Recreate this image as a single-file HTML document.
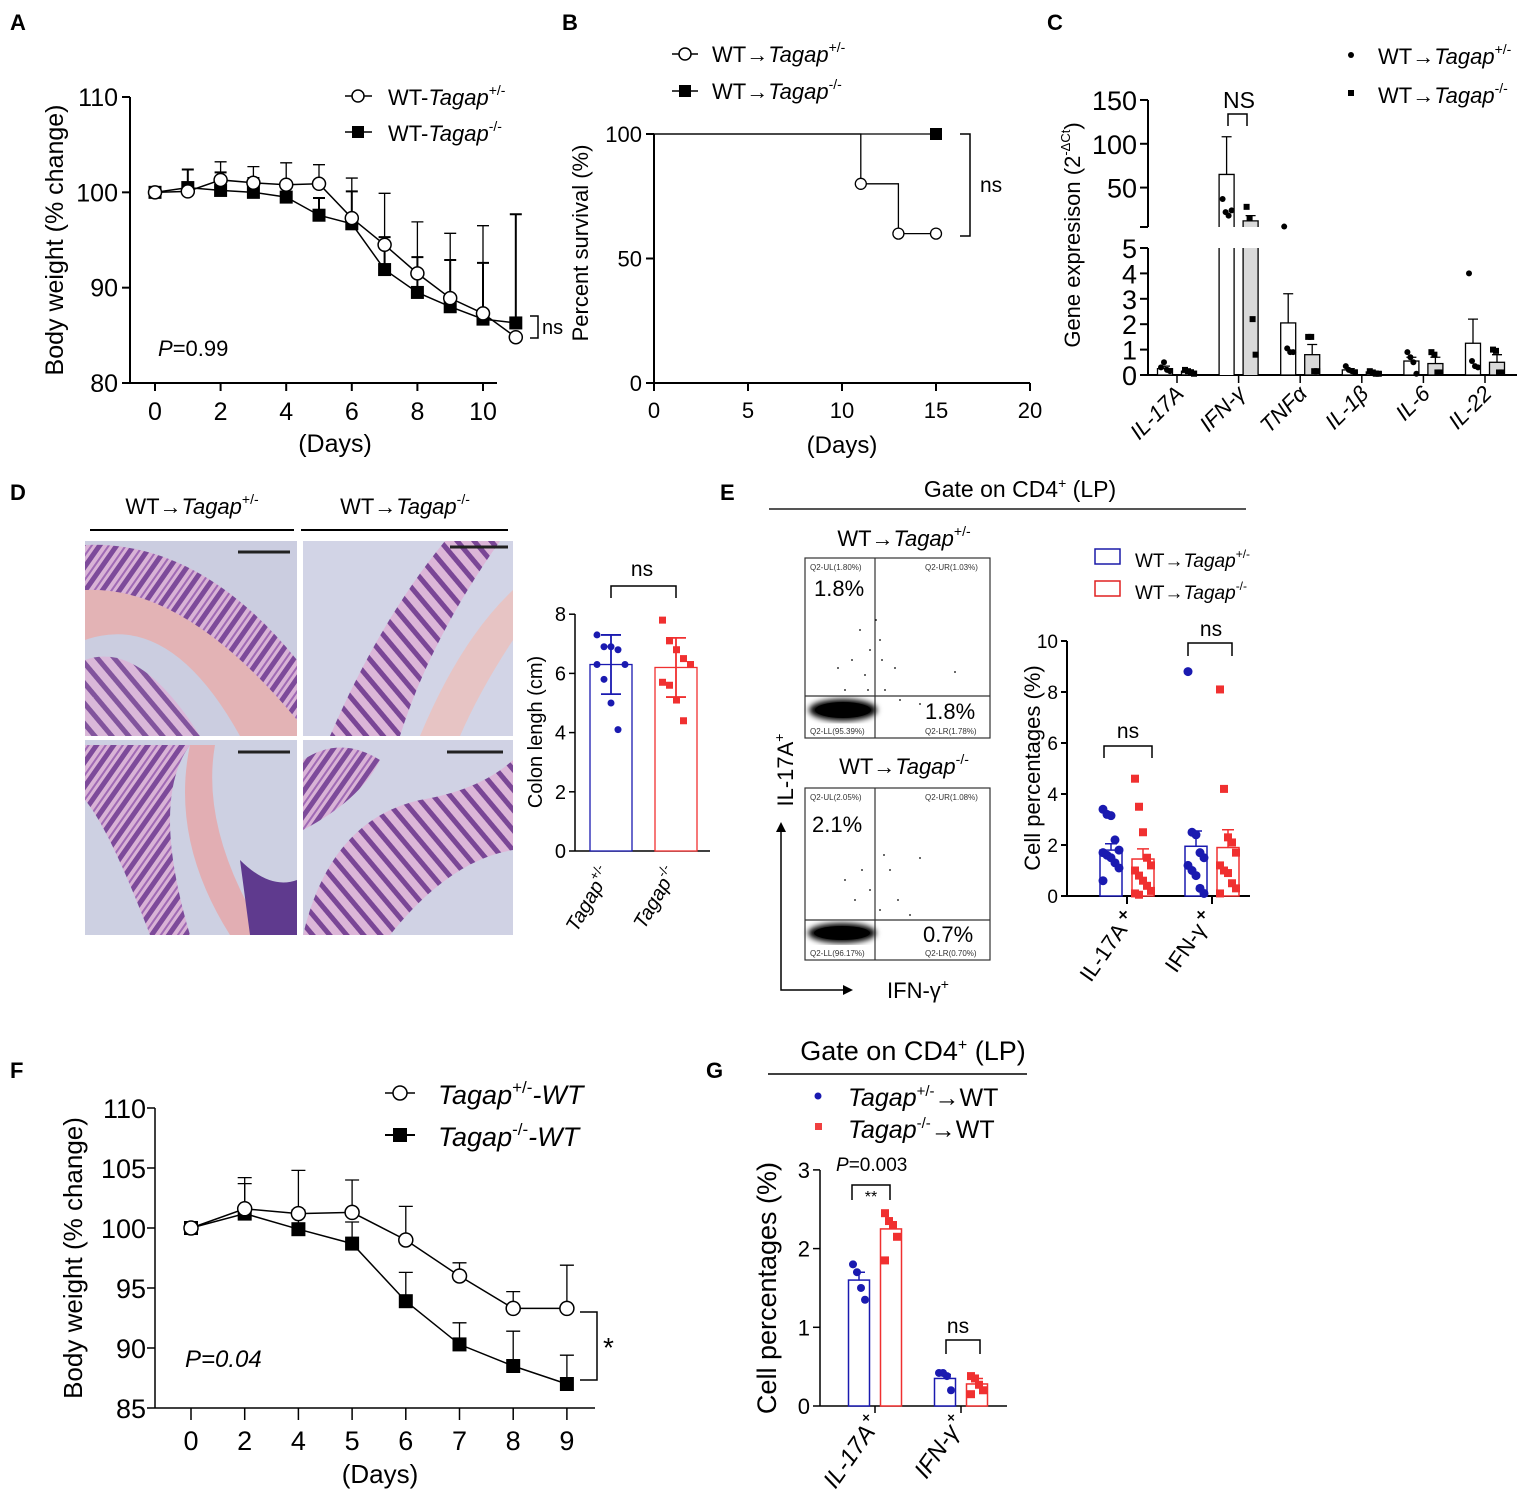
<!DOCTYPE html>
<html><head><meta charset="utf-8"><style>
html,body{margin:0;padding:0;background:#fff}
svg{display:block;font-family:"Liberation Sans",Arial,sans-serif}
</style></head><body>
<svg id="fig" width="1535" height="1495" viewBox="0 0 1535 1495" xmlns="http://www.w3.org/2000/svg">
<defs>
<pattern id="crypt" width="14" height="14" patternUnits="userSpaceOnUse" patternTransform="rotate(35)">
<rect width="14" height="14" fill="#d9b3d6"/><rect x="0" y="0" width="5" height="14" fill="#7d4a9a"/><rect x="9" y="0" width="2" height="14" fill="#a06ab5"/></pattern>
<pattern id="crypt2" width="13" height="13" patternUnits="userSpaceOnUse" patternTransform="rotate(-40)">
<rect width="13" height="13" fill="#dcb6d8"/><rect x="0" y="0" width="5" height="13" fill="#7a4696"/></pattern>
<filter id="blur"><feGaussianBlur stdDeviation="3"/></filter>
</defs>
<g font-size="24">
<text x="10" y="30" font-weight="bold" font-size="22">A</text>
<text x="562" y="30" font-weight="bold" font-size="22">B</text>
<text x="1047" y="30" font-weight="bold" font-size="22">C</text>
<text x="10" y="500" font-weight="bold" font-size="22">D</text>
<text x="720" y="500" font-weight="bold" font-size="22">E</text>
<text x="10" y="1078" font-weight="bold" font-size="22">F</text>
<text x="706" y="1078" font-weight="bold" font-size="22">G</text>

<g>
<line x1="130" y1="97" x2="130" y2="383" stroke="#000" stroke-width="2"/>
<line x1="130" y1="383" x2="497" y2="383" stroke="#000" stroke-width="2"/>
<text transform="translate(63,240) rotate(-90)" text-anchor="middle" font-size="25">Body weight (% change)</text>
<text x="335" y="452" text-anchor="middle" font-size="25">(Days)</text>
<text x="158" y="356" font-size="22"><tspan font-style="italic">P</tspan>=0.99</text>
<path d="M530,316 H538 V338 H530" fill="none" stroke="#000" stroke-width="1.5"/>
<text x="542" y="334" font-size="20">ns</text>
<g>
<line x1="345" y1="96" x2="372" y2="96" stroke="#000" stroke-width="1.5"/><circle cx="358" cy="96" r="6" fill="#fff" stroke="#000" stroke-width="1.5"/>
<text x="388" y="105" font-size="22">WT-<tspan font-style="italic">Tagap</tspan><tspan font-size="14" dy="-10">+/-</tspan></text>
<line x1="345" y1="132" x2="372" y2="132" stroke="#000" stroke-width="1.5"/><rect x="352" y="126" width="12" height="12" fill="#000"/>
<text x="388" y="141" font-size="22">WT-<tspan font-style="italic">Tagap</tspan><tspan font-size="14" dy="-10">-/-</tspan></text>
</g>
</g>

<g>
<line x1="654" y1="134" x2="654" y2="383" stroke="#000" stroke-width="2"/>
<line x1="654" y1="383" x2="1030" y2="383" stroke="#000" stroke-width="2"/>
<text transform="translate(588,243) rotate(-90)" text-anchor="middle" font-size="22">Percent survival (%)</text>
<text x="842" y="453" text-anchor="middle" font-size="24">(Days)</text>
<path d="M960,134 H970 V236 H960" fill="none" stroke="#000" stroke-width="1.5"/>
<text x="980" y="192" font-size="21">ns</text>
<g>
<line x1="672" y1="54" x2="698" y2="54" stroke="#000" stroke-width="1.5"/><circle cx="685" cy="54" r="6" fill="#fff" stroke="#000" stroke-width="1.5"/>
<text x="712" y="62" font-size="22">WT→<tspan font-style="italic">Tagap</tspan><tspan font-size="14" dy="-10">+/-</tspan></text>
<line x1="672" y1="91" x2="698" y2="91" stroke="#000" stroke-width="1.5"/><rect x="679" y="85" width="12" height="12" fill="#000"/>
<text x="712" y="99" font-size="22">WT→<tspan font-style="italic">Tagap</tspan><tspan font-size="14" dy="-10">-/-</tspan></text>
</g>
</g>

<g>
<line x1="1148" y1="100" x2="1148" y2="227" stroke="#000" stroke-width="2"/>
<line x1="1148" y1="248" x2="1148" y2="375" stroke="#000" stroke-width="2"/>
<line x1="1140" y1="227" x2="1148" y2="227" stroke="#000" stroke-width="2"/>
<line x1="1140" y1="248" x2="1148" y2="248" stroke="#000" stroke-width="2"/>
<line x1="1148" y1="375" x2="1517" y2="375" stroke="#000" stroke-width="2"/>
<text transform="translate(1080,235) rotate(-90)" text-anchor="middle" font-size="22">Gene expresison (2<tspan font-size="13" dy="-10">-ΔCt</tspan><tspan dy="10">)</tspan></text>
<path d="M1228,126 V114 H1247 V126" fill="none" stroke="#000" stroke-width="1.5"/>
<text x="1239" y="108" text-anchor="middle" font-size="23">NS</text>
<g>
<circle cx="1351" cy="55" r="3" fill="#000"/>
<text x="1378" y="64" font-size="22">WT→<tspan font-style="italic">Tagap</tspan><tspan font-size="14" dy="-10">+/-</tspan></text>
<rect x="1348" y="90" width="6" height="6" fill="#000"/>
<text x="1378" y="103" font-size="22">WT→<tspan font-style="italic">Tagap</tspan><tspan font-size="14" dy="-10">-/-</tspan></text>
</g>
</g>

<g>
<text x="192" y="514" text-anchor="middle" font-size="22">WT→<tspan font-style="italic">Tagap</tspan><tspan font-size="14" dy="-10">+/-</tspan></text>
<line x1="90" y1="530" x2="294" y2="530" stroke="#000" stroke-width="2"/>
<text x="405" y="514" text-anchor="middle" font-size="22">WT→<tspan font-style="italic">Tagap</tspan><tspan font-size="14" dy="-10">-/-</tspan></text>
<line x1="301" y1="530" x2="508" y2="530" stroke="#000" stroke-width="2"/>
<g>
<rect x="85" y="541" width="212" height="195" fill="#cbcde0"/>
<path d="M85,580 Q180,560 297,720 L297,736 L240,736 Q170,610 85,640 Z" fill="#e3b3b5"/>
<path d="M85,545 Q200,540 297,660 L297,720 Q185,585 85,590 Z" fill="url(#crypt)"/>
<path d="M85,660 Q140,640 200,736 L85,736 Z" fill="url(#crypt2)" opacity="0.9"/>
<line x1="238" y1="552" x2="290" y2="552" stroke="#222" stroke-width="3"/>
</g>
<g>
<rect x="303" y="541" width="210" height="195" fill="#d2d4e6"/>
<path d="M330,736 Q380,620 445,541 L500,541 Q430,640 400,736 Z" fill="url(#crypt2)"/>
<path d="M420,736 Q460,640 513,590 L513,640 Q480,690 460,736 Z" fill="#e7c4c4"/>
<line x1="450" y1="547" x2="508" y2="547" stroke="#222" stroke-width="3"/>
</g>
<g>
<rect x="85" y="740" width="212" height="195" fill="#cdd0e2"/>
<path d="M85,745 L190,745 Q150,800 190,935 L150,935 Q110,830 85,800 Z" fill="url(#crypt)"/>
<path d="M190,745 Q170,840 230,935 L265,935 Q200,830 215,745 Z" fill="#e2aeb3"/>
<path d="M240,860 Q270,890 297,880 L297,935 L250,935 Z" fill="#5f3a8e"/>
<line x1="238" y1="752" x2="290" y2="752" stroke="#222" stroke-width="3"/>
</g>
<g>
<rect x="303" y="740" width="210" height="195" fill="#d0d2e4"/>
<path d="M303,760 Q340,735 380,760 Q360,800 303,830 Z" fill="url(#crypt)"/>
<path d="M303,935 Q330,820 420,800 Q480,790 513,760 L513,850 Q450,860 390,935 Z" fill="url(#crypt2)"/>
<line x1="447" y1="752" x2="503" y2="752" stroke="#222" stroke-width="3"/>
</g>
<line x1="575" y1="614" x2="575" y2="851" stroke="#000" stroke-width="1.5"/>
<line x1="575" y1="851" x2="710" y2="851" stroke="#000" stroke-width="1.5"/>
<text transform="translate(542,732) rotate(-90)" text-anchor="middle" font-size="20">Colon lengh (cm)</text>
<path d="M611,598 V586 H676 V598" fill="none" stroke="#000" stroke-width="1.5"/>
<text x="642" y="576" text-anchor="middle" font-size="21">ns</text>
<text transform="translate(612,872) rotate(-60)" text-anchor="end" font-size="20" font-style="italic">Tagap<tspan font-size="13" dy="-9" font-style="normal">+/-</tspan></text>
<text transform="translate(678,872) rotate(-60)" text-anchor="end" font-size="20" font-style="italic">Tagap<tspan font-size="13" dy="-9" font-style="normal">-/-</tspan></text>
</g>

<g>
<text x="1020" y="497" text-anchor="middle" font-size="23">Gate on CD4<tspan font-size="14" dy="-9">+</tspan><tspan dy="9"> (LP)</tspan></text>
<line x1="769" y1="509" x2="1246" y2="509" stroke="#555" stroke-width="2"/>
<text x="904" y="546" text-anchor="middle" font-size="22">WT→<tspan font-style="italic">Tagap</tspan><tspan font-size="14" dy="-10">+/-</tspan></text>
<text x="904" y="774" text-anchor="middle" font-size="22">WT→<tspan font-style="italic">Tagap</tspan><tspan font-size="14" dy="-10">-/-</tspan></text>
<g>
<rect x="805" y="558" width="185" height="180" fill="#fff" stroke="#333" stroke-width="1.2"/>
<line x1="875" y1="558" x2="875" y2="738" stroke="#333" stroke-width="1.2"/>
<line x1="805" y1="696" x2="990" y2="696" stroke="#333" stroke-width="1.2"/>
<ellipse cx="843" cy="710" rx="34" ry="11" fill="#000" filter="url(#blur)"/>
<ellipse cx="843" cy="710" rx="28" ry="8" fill="#000"/>
<g fill="#000"><circle cx="860" cy="630" r="0.9"/><circle cx="870" cy="650" r="0.9"/><circle cx="880" cy="640" r="0.9"/><circle cx="852" cy="660" r="0.9"/><circle cx="865" cy="675" r="0.9"/><circle cx="885" cy="690" r="0.9"/><circle cx="900" cy="700" r="0.9"/><circle cx="895" cy="668" r="0.9"/><circle cx="838" cy="668" r="0.9"/><circle cx="955" cy="672" r="0.9"/><circle cx="876" cy="620" r="0.9"/><circle cx="882" cy="660" r="0.9"/><circle cx="868" cy="690" r="0.9"/><circle cx="920" cy="704" r="0.9"/><circle cx="845" cy="690" r="0.9"/></g>
<text x="810" y="570" font-size="8" fill="#333">Q2-UL(1.80%)</text><text x="925" y="570" font-size="8" fill="#333">Q2-UR(1.03%)</text>
<text x="810" y="734" font-size="8" fill="#333">Q2-LL(95.39%)</text><text x="925" y="734" font-size="8" fill="#333">Q2-LR(1.78%)</text>
<text x="814" y="596" font-size="22">1.8%</text><text x="925" y="719" font-size="22">1.8%</text>
</g>
<g>
<rect x="805" y="788" width="185" height="172" fill="#fff" stroke="#333" stroke-width="1.2"/>
<line x1="875" y1="788" x2="875" y2="960" stroke="#333" stroke-width="1.2"/>
<line x1="805" y1="920" x2="990" y2="920" stroke="#333" stroke-width="1.2"/>
<ellipse cx="842" cy="933" rx="34" ry="10" fill="#000" filter="url(#blur)"/>
<ellipse cx="842" cy="933" rx="28" ry="7" fill="#000"/>
<g fill="#000"><circle cx="862" cy="870" r="0.9"/><circle cx="870" cy="890" r="0.9"/><circle cx="884" cy="855" r="0.9"/><circle cx="890" cy="870" r="0.9"/><circle cx="855" cy="900" r="0.9"/><circle cx="898" cy="900" r="0.9"/><circle cx="910" cy="915" r="0.9"/><circle cx="920" cy="858" r="0.9"/><circle cx="845" cy="880" r="0.9"/><circle cx="880" cy="910" r="0.9"/></g>
<text x="810" y="800" font-size="8" fill="#333">Q2-UL(2.05%)</text><text x="925" y="800" font-size="8" fill="#333">Q2-UR(1.08%)</text>
<text x="810" y="956" font-size="8" fill="#333">Q2-LL(96.17%)</text><text x="925" y="956" font-size="8" fill="#333">Q2-LR(0.70%)</text>
<text x="812" y="832" font-size="22">2.1%</text><text x="923" y="942" font-size="22">0.7%</text>
</g>
<path d="M781,830 V990 H845" fill="none" stroke="#000" stroke-width="1.5"/>
<path d="M776,832 L781,822 L786,832 Z M843,985 L853,990 L843,995 Z" fill="#000"/>
<text transform="translate(793,770) rotate(-90)" text-anchor="middle" font-size="22">IL-17A<tspan font-size="14" dy="-9">+</tspan></text>
<text x="918" y="998" text-anchor="middle" font-size="22">IFN-γ<tspan font-size="14" dy="-9">+</tspan></text>
<g>
<rect x="1095" y="549" width="25" height="15" fill="#fff" stroke="#1a1aa8" stroke-width="1.5"/>
<text x="1135" y="567" font-size="19">WT→<tspan font-style="italic">Tagap</tspan><tspan font-size="12" dy="-9">+/-</tspan></text>
<rect x="1095" y="581" width="25" height="15" fill="#fff" stroke="#e02020" stroke-width="1.5"/>
<text x="1135" y="599" font-size="19">WT→<tspan font-style="italic">Tagap</tspan><tspan font-size="12" dy="-9">-/-</tspan></text>
</g>
<line x1="1067" y1="641" x2="1067" y2="896" stroke="#000" stroke-width="2"/>
<line x1="1067" y1="896" x2="1250" y2="896" stroke="#000" stroke-width="2"/>
<text transform="translate(1040,768) rotate(-90)" text-anchor="middle" font-size="22">Cell percentages (%)</text>
<path d="M1104,758 V746 H1152 V758" fill="none" stroke="#000" stroke-width="1.5"/>
<text x="1128" y="738" text-anchor="middle" font-size="21">ns</text>
<path d="M1188,656 V643 H1232 V656" fill="none" stroke="#000" stroke-width="1.5"/>
<text x="1211" y="636" text-anchor="middle" font-size="21">ns</text>
<text transform="translate(1128,930) rotate(-55)" text-anchor="end" font-size="22">IL-17A</text>
<text transform="translate(1207,930) rotate(-55)" text-anchor="end" font-size="22">IFN-γ</text>
<text x="1123" y="920" text-anchor="middle" font-size="16" font-weight="bold">×</text>
<text x="1201" y="920" text-anchor="middle" font-size="16" font-weight="bold">×</text>
</g>

<g>
<line x1="155" y1="1108" x2="155" y2="1408" stroke="#000" stroke-width="1.5"/>
<line x1="155" y1="1408" x2="595" y2="1408" stroke="#000" stroke-width="1.5"/>
<text transform="translate(82,1258) rotate(-90)" text-anchor="middle" font-size="26">Body weight (% change)</text>
<text x="380" y="1483" text-anchor="middle" font-size="26">(Days)</text>
<text x="185" y="1367" font-size="24" font-style="italic">P=0.04</text>
<path d="M580,1312 H597 V1380 H580" fill="none" stroke="#000" stroke-width="1.5"/>
<text x="603" y="1357" font-size="28">*</text>
<g>
<line x1="385" y1="1093" x2="415" y2="1093" stroke="#000" stroke-width="1.5"/><circle cx="400" cy="1093" r="7" fill="#fff" stroke="#000" stroke-width="1.5"/>
<text x="438" y="1104" font-size="27" font-style="italic">Tagap<tspan font-size="17" dy="-11" font-style="normal">+/-</tspan><tspan dy="11">-WT</tspan></text>
<line x1="385" y1="1135" x2="415" y2="1135" stroke="#000" stroke-width="2"/><rect x="393" y="1128" width="14" height="14" fill="#000"/>
<text x="438" y="1146" font-size="27" font-style="italic">Tagap<tspan font-size="17" dy="-11" font-style="normal">-/-</tspan><tspan dy="11">-WT</tspan></text>
</g>
</g>

<g>
<text x="913" y="1060" text-anchor="middle" font-size="27">Gate on CD4<tspan font-size="16" dy="-10">+</tspan><tspan dy="10"> (LP)</tspan></text>
<line x1="768" y1="1074" x2="1027" y2="1074" stroke="#000" stroke-width="1.5"/>
<g>
<circle cx="818" cy="1096" r="3.5" fill="#1a1ab0"/>
<text x="848" y="1106" font-size="25" font-style="italic">Tagap<tspan font-size="15" dy="-10" font-style="normal">+/-</tspan><tspan dy="10" font-style="normal">→WT</tspan></text>
<rect x="815" y="1123" width="7" height="7" fill="#f04040"/>
<text x="848" y="1138" font-size="25" font-style="italic">Tagap<tspan font-size="15" dy="-10" font-style="normal">-/-</tspan><tspan dy="10" font-style="normal">→WT</tspan></text>
</g>
<line x1="820" y1="1170" x2="820" y2="1406" stroke="#000" stroke-width="1.5"/>
<line x1="820" y1="1406" x2="1007" y2="1406" stroke="#000" stroke-width="1.5"/>
<text transform="translate(776,1288) rotate(-90)" text-anchor="middle" font-size="27">Cell percentages (%)</text>
<text x="836" y="1171" font-size="19"><tspan font-style="italic">P</tspan>=0.003</text>
<path d="M852,1200 V1185 H890 V1200" fill="none" stroke="#000" stroke-width="1.5"/>
<text x="871" y="1202" text-anchor="middle" font-size="16">**</text>
<path d="M946,1354 V1340 H980 V1354" fill="none" stroke="#000" stroke-width="1.5"/>
<text x="958" y="1333" text-anchor="middle" font-size="21">ns</text>
<text transform="translate(876,1432) rotate(-55)" text-anchor="end" font-size="24" font-style="italic">IL-17A</text>
<text transform="translate(960,1432) rotate(-55)" text-anchor="end" font-size="24" font-style="italic">IFN-γ</text>
<text x="866" y="1422" text-anchor="middle" font-size="13" font-weight="bold">×</text>
<text x="951" y="1422" text-anchor="middle" font-size="13" font-weight="bold">×</text>
</g>
</g>
</svg>
<script>
const NS='http://www.w3.org/2000/svg';
const svg=document.getElementById('fig');
function mk(tag,attrs){const e=document.createElementNS(NS,tag);for(const k in attrs)e.setAttribute(k,attrs[k]);svg.appendChild(e);return e;}

const aDays=[0,1,2,3,4,5,6,7,8,9,10,11];
const aHet=[100,100.1,101.3,101,100.8,100.9,97.3,94.5,91.5,88.9,87.3,84.8];
const aHetErr=[100,100.1,103.2,102.7,103.1,102.9,101.5,99.9,96.9,95.7,96.5,84.8];
const aKo=[100,100.5,100.2,100,99.5,97.6,96.7,91.9,89.5,88,86.7,86.3];
const aKoErr=[100,102.4,102.1,101.5,99.5,99.4,100.1,95.3,93.2,92.9,92.6,97.7];
const aXTicks=[0,2,4,6,8,10];
const aYTicks=[80,90,100,110];
const bDaysHet=[0,11,11,13,13,15];
const bSurvHet=[100,100,80,80,60,60];
const bDaysKo=[0,15];
const bSurvKo=[100,100];
const bXTicks=[0,5,10,15,20];
const bYTicks=[0,50,100];
const cCats=['IL-17A','IFN-γ','TNFα','IL-1β','IL-6','IL-22'];
const cHet=[0.25,65,2.05,0.2,0.55,1.25];
const cKo=[0.15,12,0.8,0.12,0.45,0.5];
const cHetErr=[0.35,108,3.2,0.25,0.7,2.2];
const cKoErr=[0.2,18,1.2,0.15,0.7,0.8];
const cHetDots=[[0.3,0.5,0.2,0.15],[37,22,18,24],[5.5,1.05,0.9,0.9],[0.35,0.2,0.15,0.1],[0.9,0.7,0.5,0.05],[4,0.55,0.35,0.3]];
const cKoDots=[[0.2,0.15,0.1,0.05],[28,15,2.2,0.8],[1.5,1.5,0.15,0.15],[0.15,0.1,0.05,0.05],[0.9,0.8,0.1,0.1],[1,0.95,0.1,0.1]];
const cLowTicks=[0,1,2,3,4,5];
const cHighTicks=[50,100,150];
const dMeans=[6.3,6.2];
const dErrLo=[5.3,5.2];
const dErrHi=[7.3,7.2];
const dHetDots=[7.3,6.9,6.9,6.8,6.3,6.3,5.8,5.0,4.1];
const dKoDots=[7.8,7.1,6.8,6.5,6.3,5.7,5.6,5.1,4.4];
const dYTicks=[0,2,4,6,8];
const eMeans=[1.8,1.45,1.95,1.9];
const eErr=[2.05,1.85,2.55,2.6];
const eDots=[[3.4,3.2,3.15,2.2,1.8,1.7,1.6,1.5,1.3,1.1,0.6],[4.6,3.5,2.5,1.5,1.2,1.0,0.8,0.6,0.4,0.2,0.1,0.05],[8.8,2.5,2.4,1.7,1.5,1.2,1.0,0.8,0.3,0.1],[8.1,4.2,2.3,2.1,1.7,1.2,1.0,0.9,0.5,0.3,0.1]];
const eYTicks=[0,2,4,6,8,10];
const fDays=['0','2','4','5','6','7','8','9'];
const fHet=[100,101.6,101.2,101.3,99,96,93.3,93.3];
const fHetErr=[100,104.2,104.8,104,101.8,97.1,94.7,96.9];
const fKo=[100,101.2,99.9,98.7,93.9,90.3,88.5,87];
const fKoErr=[100,103.7,101.5,100.5,96.3,92.1,91.4,89.4];
const fYTicks=[85,90,95,100,105,110];
const gMeans=[1.6,2.25,0.35,0.28];
const gErr=[1.7,2.32,0.4,0.35];
const gDots=[[1.8,1.7,1.5,1.35],[2.45,2.35,2.3,2.15,1.85],[0.42,0.42,0.38,0.2],[0.38,0.35,0.27,0.2,0.15]];
const gYTicks=[0,1,2,3];

const BLUE='#1a1ab0', RED='#f03030';

const xA=d=>155+d*32.8, yA=v=>383-(v-80)*9.533;
aYTicks.forEach(v=>{
 let t=mk('line',{x1:122,y1:yA(v),x2:130,y2:yA(v),stroke:'#000','stroke-width':2});
 
 
 let l=mk('text',{x:118,y:yA(v)+9,'text-anchor':'end','font-size':25});
 
 
 l.textContent=v;
});
aXTicks.forEach(d=>{
 let t=mk('line',{x1:xA(d),y1:383,x2:xA(d),y2:391,stroke:'#000','stroke-width':2});
 
 
 let l=mk('text',{x:xA(d),y:420,'text-anchor':'middle','font-size':25});
 
 
 l.textContent=d;
});
function errBar(x,y0,y1,w,sw){
 return mk('path',{d:`M${x},${y0} V${y1} M${x-w},${y1} H${x+w}`,stroke:'#000','stroke-width':sw,fill:'none'});
}
aDays.forEach((d,i)=>{
 if(aHetErr[i]>aHet[i]){let e=errBar(xA(d),yA(aHet[i]),yA(aHetErr[i]),6,1.3);
 
 }
 if(aKoErr[i]>aKo[i]){let e=errBar(xA(d),yA(aKo[i]),yA(aKoErr[i]),6,2);
 
 }
});
let aLk=mk('polyline',{points:aDays.map((d,i)=>xA(d)+','+yA(aKo[i])).join(' '),fill:'none',stroke:'#000','stroke-width':1.5});


let aLh=mk('polyline',{points:aDays.map((d,i)=>xA(d)+','+yA(aHet[i])).join(' '),fill:'none',stroke:'#000','stroke-width':1.5});


aDays.forEach((d,i)=>{
 let s=mk('rect',{x:xA(d)-6.5,y:yA(aKo[i])-6.5,width:13,height:13,fill:'#000'});
 
 
});
aDays.forEach((d,i)=>{
 let c=mk('circle',{cx:xA(d),cy:yA(aHet[i]),r:6.5,fill:'#fff',stroke:'#000','stroke-width':1.5});
 
 
});

const xB=d=>654+d*18.8, yB=v=>383-v*2.49;
bYTicks.forEach(v=>{
 let t=mk('line',{x1:646,y1:yB(v),x2:654,y2:yB(v),stroke:'#000','stroke-width':2});
 
 
 let l=mk('text',{x:642,y:yB(v)+8,'text-anchor':'end','font-size':22});
 
 
 l.textContent=v;
});
bXTicks.forEach(d=>{
 let t=mk('line',{x1:xB(d),y1:383,x2:xB(d),y2:391,stroke:'#000','stroke-width':2});
 
 
 let l=mk('text',{x:xB(d),y:418,'text-anchor':'middle','font-size':22});
 
 
 l.textContent=d;
});
let bLk=mk('polyline',{points:bDaysKo.map((d,i)=>xB(d)+','+yB(bSurvKo[i])).join(' '),fill:'none',stroke:'#000','stroke-width':1.3});


let bLh=mk('polyline',{points:bDaysHet.map((d,i)=>xB(d)+','+yB(bSurvHet[i])).join(' '),fill:'none',stroke:'#000','stroke-width':1.3});


[[11,80],[13,60],[15,60]].forEach(p=>{
 let c=mk('circle',{cx:xB(p[0]),cy:yB(p[1]),r:5.5,fill:'#fff',stroke:'#000','stroke-width':1.3});
 
 
});
let bSq=mk('rect',{x:xB(bDaysKo[1])-6,y:yB(bSurvKo[1])-6,width:12,height:12,fill:'#000'});



const yC=v=>v<=5?375-v*25.4:227-(v-5)*0.876;
const cX=i=>1177+i*61.6;
cLowTicks.forEach(v=>{
 let t=mk('line',{x1:1140,y1:yC(v),x2:1148,y2:yC(v),stroke:'#000','stroke-width':2});
 
 
 let l=mk('text',{x:1137,y:yC(v)+10,'text-anchor':'end','font-size':27});
 
 
 l.textContent=v;
});
cHighTicks.forEach(v=>{
 let t=mk('line',{x1:1140,y1:yC(v),x2:1148,y2:yC(v),stroke:'#000','stroke-width':2});
 
 
 let l=mk('text',{x:1137,y:yC(v)+10,'text-anchor':'end','font-size':27});
 
 
 l.textContent=v;
});
function cBar(xc,v,fill){
 if(v<=5){return mk('rect',{x:xc-7.5,y:yC(v),width:15,height:375-yC(v),fill:fill,stroke:'#000','stroke-width':1.3});}
 let f=mk('rect',{x:xc-7,y:248,width:14,height:127,fill:fill});
 
 
 let f2=mk('rect',{x:xc-7,y:yC(v),width:14,height:227-yC(v),fill:fill});
 
 
 return mk('path',{d:`M${xc-7.5},375 V248 M${xc+7.5},375 V248 M${xc-7.5},227 V${yC(v)} H${xc+7.5} V227`,fill:'none',stroke:'#000','stroke-width':1.3});
}
cCats.forEach((c,i)=>{
 const xh=cX(i)-12, xk=cX(i)+12;
 let b1=cBar(xh,cHet[i],'#fff');
 
 
 let b2=cBar(xk,cKo[i],'#d9d9d9');
 
 
 let e1=errBar(xh,yC(cHet[i]),yC(cHetErr[i]),5,1.3);
 
 
 let e2=errBar(xk,yC(cKo[i]),yC(cKoErr[i]),5,1.3);
 
 
 cHetDots[i].forEach((v,j)=>{
  let d=mk('circle',{cx:xh-4+j*3,cy:yC(v),r:3,fill:'#000'});
  
  
 });
 cKoDots[i].forEach((v,j)=>{
  let d=mk('rect',{x:xk-7+j*3,y:yC(v)-3,width:6,height:6,fill:'#000'});
  
  
 });
 let t=mk('line',{x1:cX(i),y1:375,x2:cX(i),y2:383,stroke:'#000','stroke-width':1.5});
 
 
 let l=mk('text',{transform:`translate(${cX(i)+8},395) rotate(-45)`,'text-anchor':'end','font-size':22,'font-style':'italic'});
 
 
 l.textContent=c;
});

const yD=v=>851-v*29.6;
const dX=[611,676], dCol=[BLUE,RED];
dYTicks.forEach(v=>{
 let t=mk('line',{x1:569,y1:yD(v),x2:575,y2:yD(v),stroke:'#000','stroke-width':1.5});
 
 
 let l=mk('text',{x:566,y:yD(v)+7,'text-anchor':'end','font-size':20});
 
 
 l.textContent=v;
});
[0,1].forEach(i=>{
 let b=mk('rect',{x:dX[i]-21,y:yD(dMeans[i]),width:42,height:851-yD(dMeans[i]),fill:'#fff',stroke:dCol[i],'stroke-width':1.3});
 
 
 let e=mk('path',{d:`M${dX[i]},${yD(dErrLo[i])} V${yD(dErrHi[i])} M${dX[i]-10},${yD(dErrLo[i])} H${dX[i]+10} M${dX[i]-10},${yD(dErrHi[i])} H${dX[i]+10}`,stroke:dCol[i],'stroke-width':1.8,fill:'none'});
 
 
});
dHetDots.forEach((v,j)=>{
 let c=mk('circle',{cx:dX[0]-14+(j%5)*7,cy:yD(v),r:3.5,fill:BLUE});
 
 
});
dKoDots.forEach((v,j)=>{
 let c=mk('rect',{x:dX[1]-17+(j%5)*7,y:yD(v)-3.5,width:7,height:7,fill:RED});
 
 
});

const yE=v=>896-v*25.5;
const eX=[1111,1143,1196,1228], eCol=[BLUE,RED,BLUE,RED];
eYTicks.forEach(v=>{
 let t=mk('line',{x1:1061,y1:yE(v),x2:1067,y2:yE(v),stroke:'#000','stroke-width':2});
 
 
 let l=mk('text',{x:1058,y:yE(v)+7,'text-anchor':'end','font-size':19});
 
 
 l.textContent=v;
});
eMeans.forEach((m,i)=>{
 let b=mk('rect',{x:eX[i]-11,y:yE(m),width:22,height:896-yE(m),fill:'#fff',stroke:eCol[i],'stroke-width':1.5});
 
 
 let e=mk('path',{d:`M${eX[i]},${yE(m)} V${yE(eErr[i])} M${eX[i]-6},${yE(eErr[i])} H${eX[i]+6}`,stroke:eCol[i],'stroke-width':1.5,fill:'none'});
 
 
 eDots[i].forEach((v,j)=>{
  const dx=eX[i]-8+(j%5)*4;
  let d;
  if(i%2===0){d=mk('circle',{cx:dx,cy:yE(v),r:4.5,fill:BLUE});}
  else{d=mk('rect',{x:dx-4,y:yE(v)-4,width:8,height:8,fill:RED});}
  
  
 });
});
[1127,1212].forEach(x=>{
 let t=mk('line',{x1:x,y1:896,x2:x,y2:904,stroke:'#000','stroke-width':2});
 
 
});

const xF=i=>191+i*53.7, yF=v=>1408-(v-85)*12;
fYTicks.forEach(v=>{
 let t=mk('line',{x1:147,y1:yF(v),x2:155,y2:yF(v),stroke:'#000','stroke-width':1.5});
 
 
 let l=mk('text',{x:146,y:yF(v)+10,'text-anchor':'end','font-size':27});
 
 
 l.textContent=v;
});
fDays.forEach((d,i)=>{
 let t=mk('line',{x1:xF(i),y1:1408,x2:xF(i),y2:1420,stroke:'#000','stroke-width':1.5});
 
 
 let l=mk('text',{x:xF(i),y:1450,'text-anchor':'middle','font-size':27});
 
 
 l.textContent=d;
 if(fHetErr[i]>fHet[i]){let e=errBar(xF(i),yF(fHet[i]),yF(fHetErr[i]),7,1.3);
 
 }
 if(fKoErr[i]>fKo[i]){let e=errBar(xF(i),yF(fKo[i]),yF(fKoErr[i]),7,1.3);
 
 }
});
let fLk=mk('polyline',{points:fKo.map((v,i)=>xF(i)+','+yF(v)).join(' '),fill:'none',stroke:'#000','stroke-width':1.5});


let fLh=mk('polyline',{points:fHet.map((v,i)=>xF(i)+','+yF(v)).join(' '),fill:'none',stroke:'#000','stroke-width':1.5});


fKo.forEach((v,i)=>{
 let s=mk('rect',{x:xF(i)-7,y:yF(v)-7,width:14,height:14,fill:'#000'});
 
 
});
fHet.forEach((v,i)=>{
 let c=mk('circle',{cx:xF(i),cy:yF(v),r:7,fill:'#fff',stroke:'#000','stroke-width':1.5});
 
 
});

const yG=v=>1406-v*78.7;
const gX=[859,891,945,977], gCol=[BLUE,RED,BLUE,RED];
gYTicks.forEach(v=>{
 let t=mk('line',{x1:813,y1:yG(v),x2:820,y2:yG(v),stroke:'#000','stroke-width':1.5});
 
 
 let l=mk('text',{x:810,y:yG(v)+8,'text-anchor':'end','font-size':22});
 
 
 l.textContent=v;
});
gMeans.forEach((m,i)=>{
 let b=mk('rect',{x:gX[i]-10.5,y:yG(m),width:21,height:1406-yG(m),fill:'#fff',stroke:gCol[i],'stroke-width':1.5});
 
 
 let e=mk('path',{d:`M${gX[i]},${yG(m)} V${yG(gErr[i])} M${gX[i]-6},${yG(gErr[i])} H${gX[i]+6}`,stroke:gCol[i],'stroke-width':1.5,fill:'none'});
 
 
 gDots[i].forEach((v,j)=>{
  const dx=gX[i]-6+(j%4)*4;
  let d;
  if(i%2===0){d=mk('circle',{cx:dx,cy:yG(v),r:4,fill:BLUE});}
  else{d=mk('rect',{x:dx-4,y:yG(v)-4,width:8,height:8,fill:RED});}
  
  
 });
});
[875,961].forEach(x=>{
 let t=mk('line',{x1:x,y1:1406,x2:x,y2:1413,stroke:'#000','stroke-width':1.5});
 
 
});
</script>
</body></html>
